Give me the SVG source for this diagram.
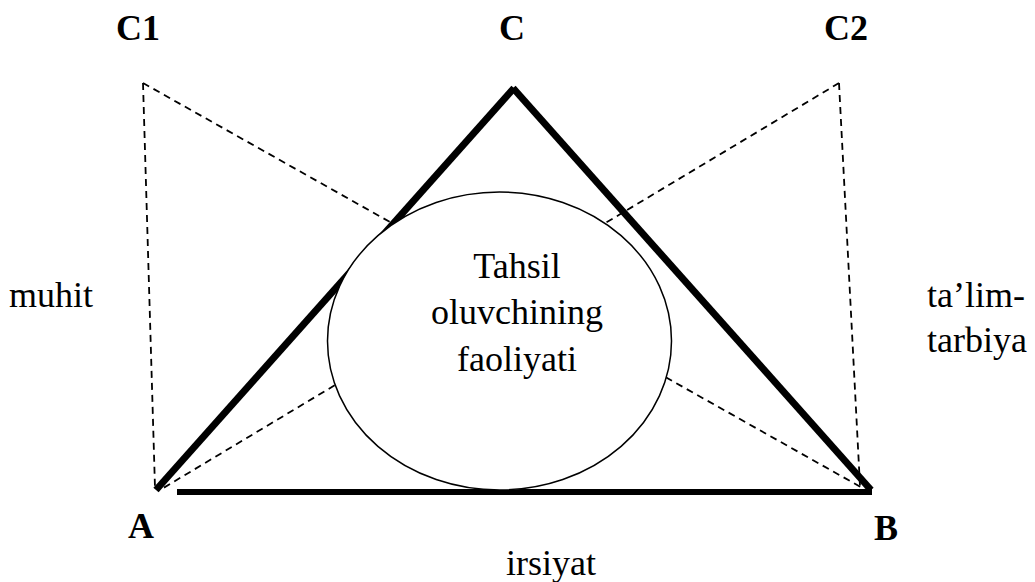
<svg xmlns="http://www.w3.org/2000/svg" width="1035" height="582" viewBox="0 0 1035 582">
<style>
.thick{stroke:#000;stroke-width:7;fill:none;stroke-linecap:butt}
.dash{stroke:#000;stroke-width:1.8;fill:none;stroke-dasharray:7,5}
.lbl{font-family:"Liberation Serif","Times New Roman",serif;font-size:36px;fill:#000}
.b{font-weight:bold}
</style>
<rect width="1035" height="582" fill="#fff"/>
<g id="connectors">
<line class="dash" x1="143" y1="83" x2="155" y2="488"/>
<line class="dash" x1="143" y1="83" x2="866" y2="490"/>
<line class="dash" x1="839" y1="83" x2="160" y2="490"/>
<line class="dash" x1="839" y1="83" x2="860" y2="486"/>
<line class="thick" x1="156" y1="490" x2="514" y2="88"/>
<line class="thick" x1="513" y1="88" x2="871" y2="490"/>
<line class="thick" x1="177" y1="492" x2="872" y2="492" style="stroke-width:6"/>
</g>
<g id="center">
<ellipse cx="499.5" cy="341" rx="172" ry="149" fill="#fff" stroke="#000" stroke-width="1.5"/>
<text class="lbl" text-anchor="middle" x="517" y="278">Tahsil</text>
<text class="lbl" text-anchor="middle" x="517" y="324">oluvchining</text>
<text class="lbl" text-anchor="middle" x="517" y="371">faoliyati</text>
</g>
<g id="nodeC"><text class="lbl b" x="499" y="40">C</text></g>
<g id="nodeC1"><text class="lbl b" x="116" y="40">C1</text></g>
<g id="nodeC2"><text class="lbl b" x="824" y="40">C2</text></g>
<g id="nodeA"><text class="lbl b" x="128" y="538">A</text></g>
<g id="nodeB"><text class="lbl b" x="874" y="540">B</text></g>
<g id="muhit"><text class="lbl" x="9" y="307">muhit</text></g>
<g id="talim"><text class="lbl" x="927" y="307">ta’lim-</text><text class="lbl" x="927" y="352">tarbiya</text></g>
<g id="irsiyat"><text class="lbl" x="506" y="575">irsiyat</text></g>
</svg>
